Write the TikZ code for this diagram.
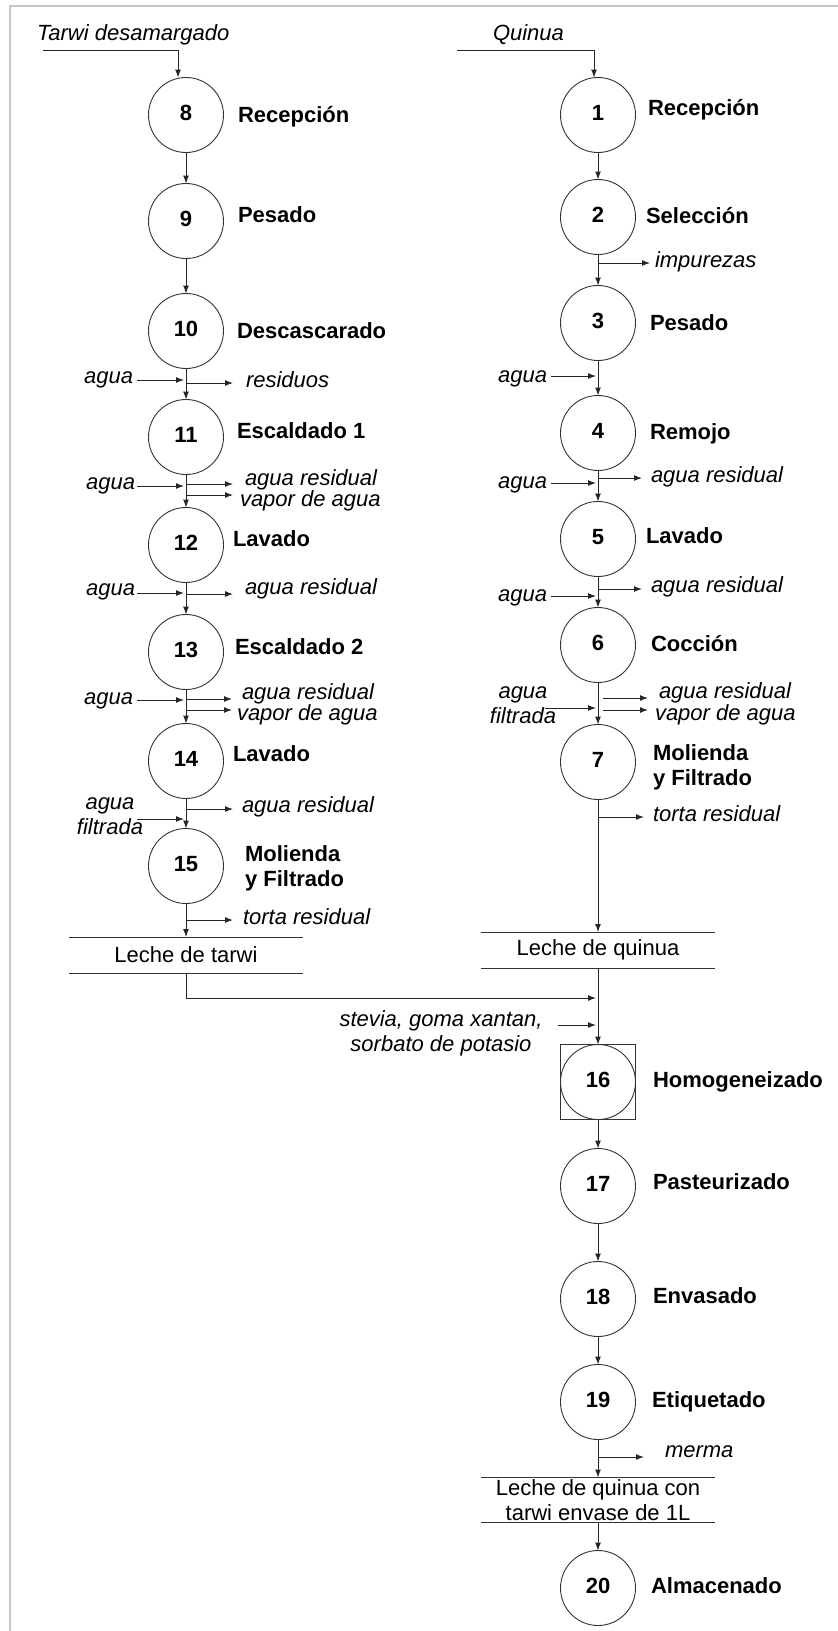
\documentclass[tikz,border=0pt]{standalone}
\usepackage{fontspec}
\setmainfont{Liberation Sans}
\usetikzlibrary{arrows.meta}
\begin{document}
\begin{tikzpicture}[x=1pt,y=-1pt]
\tikzset{
  base/.style={inner sep=0pt, outer sep=0pt, font=\fontsize{22}{25}\selectfont},
  proc/.style={base, circle, draw=black!80, line width=0.9pt, minimum size=75pt,
    font=\fontsize{22}{25}\selectfont\bfseries, text height=16pt, text depth=5pt},
  stepname/.style={base, anchor=west, font=\fontsize{22}{25}\selectfont\bfseries,
    text height=16pt, text depth=5pt},
  stepname2/.style={base, anchor=west, align=left, font=\fontsize{22}{25}\selectfont\bfseries},
  flow/.style={base, font=\fontsize{22}{25}\selectfont\itshape, text height=16pt, text depth=5pt},
  flow2/.style={base, align=center, font=\fontsize{22}{25}\selectfont\itshape},
  prod/.style={base, align=center, minimum width=234pt},
  rule/.style={draw=black!80, line width=1pt},
  arr/.style={-{Latex[length=8pt,width=6pt]}, line width=1pt, draw=black!85},
  frame/.style={draw=black!22, line width=2pt}
}
\useasboundingbox (0,0) rectangle (838,1631);
\draw[frame] (10,1631) -- (10,6) -- (838,6);

% ---------------- Tarwi line ----------------
\node[flow, anchor=west] (tarwi) at (37,35) {Tarwi desamargado};
\node[proc] (c8)  at (186,115) {8};
\node[proc] (c9)  at (186,221) {9};
\node[proc] (c10) at (186,331) {10};
\node[proc] (c11) at (186,437) {11};
\node[proc] (c12) at (186,545) {12};
\node[proc] (c13) at (186,652) {13};
\node[proc] (c14) at (186,761) {14};
\node[proc] (c15) at (186,866) {15};

\node[stepname] (n8)  at (238,117) {Recepción};
\node[stepname] (n9)  at (238,217) {Pesado};
\node[stepname] (n10) at (237,333) {Descascarado};
\node[stepname] (n11) at (237,433) {Escaldado 1};
\node[stepname] (n12) at (233,541) {Lavado};
\node[stepname] (n13) at (235,649) {Escaldado 2};
\node[stepname] (n14) at (233,756) {Lavado};
\node[stepname2] (n15) at (245,868) {Molienda\\y Filtrado};

\node[prod, minimum height=36pt] (lt) at (186,955) {Leche de tarwi};
\draw[rule] (lt.north west) -- (lt.north east) (lt.south west) -- (lt.south east);

\coordinate (tarwi0) at (43,50);
\draw[arr] (tarwi0) -| ([xshift=-8pt]c8.north);
\draw[arr] (c8) -- (c9);
\draw[arr] (c9) -- (c10);
\draw[arr] (c10) -- (c11);
\draw[arr] (c11) -- (c12);
\draw[arr] (c12) -- (c13);
\draw[arr] (c13) -- (c14);
\draw[arr] (c14) -- (c15);
\draw[arr] (c15) -- (lt);

% inputs and outputs, tarwi
\node[flow, anchor=east] (i10) at (133,378) {agua};
\coordinate (i10s) at (137,380);
\draw[arr, shorten >=2pt] (i10s) -- (i10s -| c10);
\node[flow, anchor=west] (o10) at (246,382) {residuos};
\coordinate (o10t) at (233,383);
\draw[arr] (o10t -| c10) -- (o10t);

\node[flow, anchor=east] (i11) at (135,484) {agua};
\coordinate (i11s) at (137,486);
\draw[arr, shorten >=2pt] (i11s) -- (i11s -| c11);
\node[flow, anchor=west] (o11a) at (245,480) {agua residual};
\node[flow, anchor=west] (o11b) at (240,501) {vapor de agua};
\coordinate (o11at) at (233,484);
\coordinate (o11bt) at (233,495);
\draw[arr] (o11at -| c11) -- (o11at);
\draw[arr] (o11bt -| c11) -- (o11bt);

\node[flow, anchor=east] (i12) at (135,590) {agua};
\coordinate (i12s) at (137,593);
\draw[arr, shorten >=2pt] (i12s) -- (i12s -| c12);
\node[flow, anchor=west] (o12) at (245,589) {agua residual};
\coordinate (o12t) at (233,594);
\draw[arr] (o12t -| c12) -- (o12t);

\node[flow, anchor=east] (i13) at (133,699) {agua};
\coordinate (i13s) at (137,700);
\draw[arr, shorten >=2pt] (i13s) -- (i13s -| c13);
\node[flow, anchor=west] (o13a) at (242,694) {agua residual};
\node[flow, anchor=west] (o13b) at (237,715) {vapor de agua};
\coordinate (o13at) at (232,699);
\coordinate (o13bt) at (232,710);
\draw[arr] (o13at -| c13) -- (o13at);
\draw[arr] (o13bt -| c13) -- (o13bt);

\node[flow2] (i14) at (110,816) {agua\\filtrada};
\coordinate (i14s) at (137,819);
\draw[arr, shorten >=2pt] (i14s) -- (i14s -| c14);
\node[flow, anchor=west] (o14) at (242,807) {agua residual};
\coordinate (o14t) at (233,809);
\draw[arr] (o14t -| c14) -- (o14t);

\node[flow, anchor=west] (o15) at (243,919) {torta residual};
\coordinate (o15t) at (233,920);
\draw[arr] (o15t -| c15) -- (o15t);

% ---------------- Quinua line ----------------
\node[flow, anchor=west] (quinua) at (493,35) {Quinua};
\node[proc] (c1) at (598,115) {1};
\node[proc] (c2) at (598,217) {2};
\node[proc] (c3) at (598,323) {3};
\node[proc] (c4) at (598,433) {4};
\node[proc] (c5) at (598,539) {5};
\node[proc] (c6) at (598,645) {6};
\node[proc] (c7) at (598,762) {7};

\node[stepname] (n1) at (648,110) {Recepción};
\node[stepname] (n2) at (646,218) {Selección};
\node[stepname] (n3) at (650,325) {Pesado};
\node[stepname] (n4) at (650,434) {Remojo};
\node[stepname] (n5) at (646,538) {Lavado};
\node[stepname] (n6) at (651,646) {Cocción};
\node[stepname2] (n7) at (653,767) {Molienda\\y Filtrado};

\node[prod, minimum height=36pt] (lq) at (598,950) {Leche de quinua};
\draw[rule] (lq.north west) -- (lq.north east) (lq.south west) -- (lq.south east);

\coordinate (quinua0) at (457,50);
\draw[arr] (quinua0) -| ([xshift=-4pt]c1.north);
\draw[arr] (c1) -- (c2);
\draw[arr] (c2) -- (c3);
\draw[arr] (c3) -- (c4);
\draw[arr] (c4) -- (c5);
\draw[arr] (c5) -- (c6);
\draw[arr] (c6) -- (c7);
\draw[arr] (c7) -- (lq);

\node[flow, anchor=west] (o2) at (655,262) {impurezas};
\coordinate (o2t) at (650,263);
\draw[arr] (o2t -| c2) -- (o2t);

\node[flow, anchor=east] (i3) at (547,377) {agua};
\coordinate (i3s) at (551,376);
\draw[arr, shorten >=2pt] (i3s) -- (i3s -| c3);

\node[flow, anchor=east] (i4) at (547,483) {agua};
\coordinate (i4s) at (551,483);
\draw[arr, shorten >=2pt] (i4s) -- (i4s -| c4);
\node[flow, anchor=west] (o4) at (651,477) {agua residual};
\coordinate (o4t) at (642,478);
\draw[arr] (o4t -| c4) -- (o4t);

\node[flow, anchor=east] (i5) at (547,596) {agua};
\coordinate (i5s) at (551,596);
\draw[arr, shorten >=2pt] (i5s) -- (i5s -| c5);
\node[flow, anchor=west] (o5) at (651,587) {agua residual};
\coordinate (o5t) at (642,589);
\draw[arr] (o5t -| c5) -- (o5t);

\node[flow2] (i6) at (523,705) {agua\\filtrada};
\coordinate (i6s) at (545,708);
\draw[arr, shorten >=2pt] (i6s) -- (i6s -| c6);
\node[flow, anchor=west] (o6a) at (659,693) {agua residual};
\node[flow, anchor=west] (o6b) at (655,715) {vapor de agua};
\coordinate (o6as) at (603,698);
\coordinate (o6at) at (648,698);
\coordinate (o6bs) at (603,710);
\coordinate (o6bt) at (648,710);
\draw[arr] (o6as) -- (o6at);
\draw[arr] (o6bs) -- (o6bt);

\node[flow, anchor=west] (o7) at (653,816) {torta residual};
\coordinate (o7t) at (644,817);
\draw[arr] (o7t -| c7) -- (o7t);

% ---------------- Mixing and finishing ----------------
\node[base, draw=black!80, line width=0.9pt, minimum size=75pt] (sq16) at (598,1082) {};
\node[proc] (c16) at (598,1082) {16};
\node[proc] (c17) at (598,1186) {17};
\node[proc] (c18) at (598,1299) {18};
\node[proc] (c19) at (598,1402) {19};
\node[proc] (c20) at (598,1588) {20};

\node[stepname] (n16) at (653,1082) {Homogeneizado};
\node[stepname] (n17) at (653,1184) {Pasteurizado};
\node[stepname] (n18) at (653,1298) {Envasado};
\node[stepname] (n19) at (652,1402) {Etiquetado};
\node[stepname] (n20) at (651,1588) {Almacenado};

\coordinate (mixin) at (598,998);
\draw[arr, shorten >=2pt] (lt.south) |- (mixin);
\node[flow2] (i16) at (441,1033) {stevia, goma xantan,\\sorbato de potasio};
\coordinate (i16s) at (558,1025);
\draw[arr, shorten >=2pt] (i16s) -- (i16s -| sq16);
\draw[arr] (lq) -- (sq16);
\draw[arr] (sq16) -- (c17);
\draw[arr] (c17) -- (c18);
\draw[arr] (c18) -- (c19);

\node[flow, anchor=west] (o19) at (665,1452) {merma};
\coordinate (o19t) at (644,1457);

\node[prod, minimum height=45pt] (lf) at (598,1500) {Leche de quinua con\\tarwi envase de 1L};
\draw[rule] (lf.north west) -- (lf.north east) (lf.south west) -- (lf.south east);
\draw[arr] (c19) -- (lf);
\draw[arr] (o19t -| c19) -- (o19t);
\draw[arr] (lf) -- (c20);
\end{tikzpicture}
\end{document}
